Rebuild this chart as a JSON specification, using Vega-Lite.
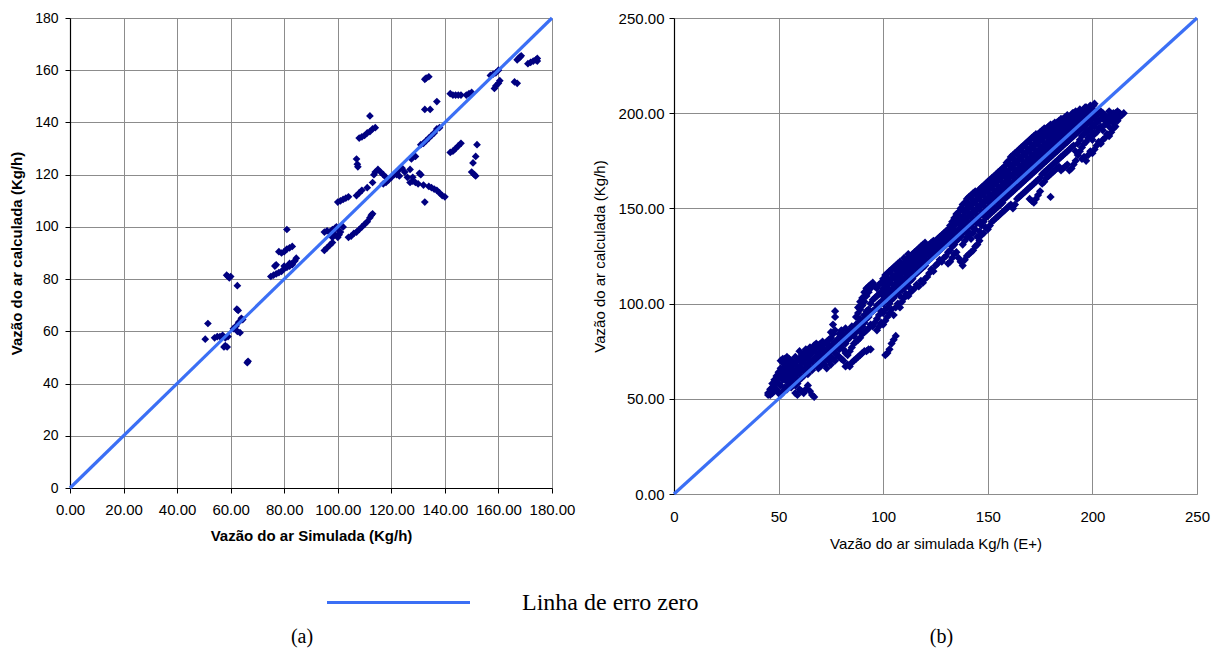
{
"$schema":"https://vega.github.io/schema/vega-lite/v6.json",
"background":"white",
"padding":{"left":9,"top":11,"right":5,"bottom":5},
"bounds":"flush",
"spacing":122,
"config":{"view":{"stroke":null},
"axis":{"grid":true,"gridColor":"#8c8c8c","gridWidth":1,"gridOpacity":1,"domainColor":"#000000","domainWidth":1.2,"tickColor":"#000000","labelColor":"#000000","titleColor":"#000000","labelFont":"Liberation Sans","titleFont":"Liberation Sans","labelFlush":false,"labelOverlap":false,"labelBound":false}},
"datasets":{
"la":[{"x":0,"y":0,"lab":"Linha de erro zero"},{"x":180,"y":180,"lab":"Linha de erro zero"}],
"lb":[{"x":0,"y":0},{"x":250,"y":250}],
"a":[{"x":50.5,"y":57},{"x":51.5,"y":63},{"x":54,"y":57.5},{"x":55,"y":58},{"x":56,"y":58},{"x":57,"y":58.5},{"x":58,"y":57.5},{"x":59,"y":58},{"x":57.5,"y":54},{"x":58,"y":54.5},{"x":58.7,"y":54},{"x":58.5,"y":81.5},{"x":59,"y":81},{"x":59.5,"y":80.5},{"x":60,"y":81},{"x":62.5,"y":77.5},{"x":62.3,"y":68.5},{"x":62.8,"y":68},{"x":61,"y":61},{"x":62,"y":62},{"x":63,"y":63.5},{"x":64,"y":65},{"x":64.5,"y":64.5},{"x":63.5,"y":59.5},{"x":62.5,"y":60},{"x":66.5,"y":48.5},{"x":66.2,"y":48},
{"x":75,"y":81},{"x":76,"y":81.5},{"x":77,"y":82},{"x":78,"y":82.5},{"x":79,"y":83},{"x":80,"y":84},{"x":81,"y":84.5},{"x":82,"y":85},{"x":83,"y":86},{"x":84,"y":87},{"x":84.5,"y":88},{"x":77,"y":85.5},{"x":76.5,"y":85},{"x":78,"y":90.5},{"x":79,"y":90},{"x":80,"y":90.5},{"x":81,"y":91.5},{"x":82,"y":92},{"x":83,"y":92.5},{"x":81,"y":99},{"x":80,"y":85},{"x":82,"y":86},{"x":83,"y":85.5},
{"x":95,"y":91},{"x":96,"y":92},{"x":97,"y":93},{"x":98,"y":94},{"x":95,"y":98},{"x":96,"y":98.5},{"x":97,"y":98},{"x":98,"y":99},{"x":99,"y":99.5},{"x":100,"y":96},{"x":100.5,"y":97},{"x":101,"y":98},{"x":102,"y":100},{"x":99,"y":97},{"x":99.5,"y":100},{"x":100,"y":109.5},{"x":101,"y":110},{"x":102,"y":110.5},{"x":103,"y":111},{"x":104,"y":111.5},{"x":98,"y":96},{"x":100,"y":99},
{"x":104,"y":96},{"x":105,"y":96.5},{"x":106,"y":97.5},{"x":107,"y":98},{"x":108,"y":99},{"x":109,"y":100},{"x":110,"y":101},{"x":111,"y":102},{"x":112,"y":103.5},{"x":112.5,"y":104.5},{"x":113,"y":105},{"x":107,"y":112},{"x":108,"y":113},{"x":109,"y":114},{"x":111,"y":115},{"x":107,"y":126},{"x":107.3,"y":124},{"x":107.5,"y":123},{"x":108,"y":134},{"x":109,"y":134.5},{"x":110,"y":135},{"x":111,"y":136},{"x":112,"y":136.5},{"x":113,"y":137.5},{"x":114,"y":138},{"x":112,"y":142.5},
{"x":113,"y":117},{"x":113.5,"y":120},{"x":114,"y":121},{"x":115,"y":122},{"x":116,"y":121},{"x":117,"y":120},{"x":118,"y":119},{"x":117,"y":116.5},{"x":118,"y":117},{"x":119,"y":118},{"x":120,"y":119},{"x":121,"y":120},{"x":122,"y":121},{"x":123,"y":122},{"x":124,"y":122.5},{"x":125,"y":121},{"x":126,"y":119},{"x":127,"y":117},{"x":128,"y":117.5},{"x":129,"y":117},{"x":130,"y":116.5},{"x":130.5,"y":120.5},{"x":131,"y":120},{"x":128,"y":119},{"x":127,"y":122},{"x":127.5,"y":126},{"x":128,"y":127},{"x":129,"y":127},{"x":132,"y":116},{"x":134,"y":115.5},{"x":135,"y":115},{"x":136,"y":114.5},{"x":137,"y":114},{"x":138,"y":113},{"x":139,"y":112},{"x":140,"y":111.5},{"x":132.5,"y":109.5},{"x":122,"y":120},{"x":123,"y":119.5},
{"x":131,"y":131.5},{"x":132,"y":132},{"x":133,"y":133},{"x":134,"y":134},{"x":135,"y":135},{"x":136,"y":136},{"x":137,"y":137.5},{"x":138,"y":138},{"x":132.5,"y":156.5},{"x":133,"y":157},{"x":134,"y":157.5},{"x":132.5,"y":145},{"x":134.5,"y":145},{"x":137,"y":148},{"x":142,"y":151},{"x":143,"y":150.5},{"x":144,"y":150.5},{"x":145,"y":150.5},{"x":146,"y":150.5},{"x":148,"y":150.5},{"x":149,"y":151},{"x":150,"y":151.5},{"x":142,"y":128.5},{"x":143,"y":129},{"x":144,"y":130},{"x":145,"y":131},{"x":146,"y":132},{"x":150,"y":121},{"x":151,"y":120},{"x":151.5,"y":119.5},{"x":150.5,"y":124.5},{"x":151.5,"y":127},{"x":152,"y":131.5},
{"x":157,"y":158},{"x":158,"y":158.5},{"x":159,"y":159},{"x":160,"y":160},{"x":158.5,"y":153},{"x":159,"y":154},{"x":160,"y":155},{"x":160.5,"y":156},{"x":166,"y":155.5},{"x":167,"y":155},{"x":167,"y":164},{"x":168,"y":165},{"x":168.5,"y":165.5},{"x":167.5,"y":164.5},{"x":171,"y":162.5},{"x":172,"y":163},{"x":173,"y":163.5},{"x":174,"y":164},{"x":174.5,"y":164.5},{"x":174.5,"y":163.5}],
"b":[{"x":45,"y":52},{"x":45,"y":53},{"x":46,"y":52},{"x":46,"y":55},{"x":47,"y":53},{"x":47,"y":56},{"x":47,"y":58},{"x":48,"y":54},{"x":48,"y":57},{"x":48,"y":60},{"x":49,"y":55},{"x":49,"y":59},{"x":49,"y":62},
{"x":50,"y":53},{"x":50,"y":58},{"x":50,"y":61},{"x":50,"y":64},{"x":51,"y":52},{"x":51,"y":57},{"x":51,"y":63},{"x":51,"y":66},{"x":51,"y":70},{"x":52,"y":54},{"x":52,"y":60},{"x":52,"y":65},{"x":52,"y":69},{"x":52,"y":71},{"x":53,"y":56},{"x":53,"y":62},{"x":53,"y":67},{"x":53,"y":71},{"x":54,"y":55},{"x":54,"y":59},{"x":54,"y":64},{"x":54,"y":70},{"x":54,"y":72},
{"x":55,"y":57},{"x":55,"y":61},{"x":55,"y":66},{"x":55,"y":68},{"x":55,"y":71},{"x":56,"y":56},{"x":56,"y":60},{"x":56,"y":63},{"x":56,"y":67},{"x":56,"y":70},{"x":57,"y":58},{"x":57,"y":62},{"x":57,"y":65},{"x":57,"y":69},{"x":58,"y":53},{"x":58,"y":57},{"x":58,"y":61},{"x":58,"y":64},{"x":58,"y":68},{"x":58,"y":72},{"x":59,"y":52},{"x":59,"y":58},{"x":59,"y":63},{"x":59,"y":66},{"x":59,"y":70},
{"x":60,"y":55},{"x":60,"y":60},{"x":60,"y":64},{"x":60,"y":67},{"x":60,"y":71},{"x":60,"y":75},{"x":61,"y":54},{"x":61,"y":61},{"x":61,"y":66},{"x":61,"y":69},{"x":61,"y":73},{"x":62,"y":53},{"x":62,"y":62},{"x":62,"y":65},{"x":62,"y":70},{"x":62,"y":74},{"x":63,"y":55},{"x":63,"y":64},{"x":63,"y":68},{"x":63,"y":72},{"x":63,"y":76},{"x":64,"y":57},{"x":64,"y":63},{"x":64,"y":67},{"x":64,"y":71},{"x":64,"y":75},
{"x":65,"y":54},{"x":65,"y":66},{"x":65,"y":69},{"x":65,"y":73},{"x":65,"y":77},{"x":66,"y":52},{"x":66,"y":65},{"x":66,"y":70},{"x":66,"y":74},{"x":66,"y":76},{"x":67,"y":51},{"x":67,"y":67},{"x":67,"y":71},{"x":67,"y":75},{"x":67,"y":78},{"x":68,"y":68},{"x":68,"y":72},{"x":68,"y":77},{"x":68,"y":79},{"x":69,"y":66},{"x":69,"y":70},{"x":69,"y":74},{"x":69,"y":78},
{"x":70,"y":67},{"x":70,"y":71},{"x":70,"y":76},{"x":70,"y":79},{"x":71,"y":69},{"x":71,"y":73},{"x":71,"y":77},{"x":71,"y":80},{"x":72,"y":68},{"x":72,"y":72},{"x":72,"y":75},{"x":72,"y":79},{"x":73,"y":66},{"x":73,"y":71},{"x":73,"y":76},{"x":73,"y":80},{"x":74,"y":70},{"x":74,"y":74},{"x":74,"y":78},{"x":74,"y":81},
{"x":75,"y":68},{"x":75,"y":72},{"x":75,"y":77},{"x":75,"y":82},{"x":75,"y":85},{"x":76,"y":71},{"x":76,"y":75},{"x":76,"y":79},{"x":76,"y":84},{"x":76,"y":89},{"x":77,"y":70},{"x":77,"y":74},{"x":77,"y":80},{"x":77,"y":86},{"x":77,"y":93},{"x":77,"y":96},{"x":78,"y":73},{"x":78,"y":77},{"x":78,"y":81},{"x":79,"y":72},{"x":79,"y":76},{"x":79,"y":82},{"x":79,"y":84},
{"x":80,"y":71},{"x":80,"y":78},{"x":80,"y":83},{"x":80,"y":86},{"x":81,"y":70},{"x":81,"y":76},{"x":81,"y":80},{"x":81,"y":84},{"x":82,"y":67},{"x":82,"y":74},{"x":82,"y":79},{"x":82,"y":83},{"x":82,"y":87},{"x":83,"y":68},{"x":83,"y":73},{"x":83,"y":81},{"x":83,"y":85},{"x":84,"y":67},{"x":84,"y":75},{"x":84,"y":82},{"x":84,"y":86},
{"x":85,"y":69},{"x":85,"y":77},{"x":85,"y":84},{"x":85,"y":88},{"x":86,"y":70},{"x":86,"y":79},{"x":86,"y":83},{"x":86,"y":87},{"x":87,"y":71},{"x":87,"y":80},{"x":87,"y":85},{"x":87,"y":89},{"x":87,"y":93},{"x":88,"y":72},{"x":88,"y":81},{"x":88,"y":86},{"x":88,"y":90},{"x":88,"y":95},{"x":88,"y":98},{"x":89,"y":73},{"x":89,"y":82},{"x":89,"y":87},{"x":89,"y":92},{"x":89,"y":97},{"x":89,"y":101},
{"x":90,"y":74},{"x":90,"y":84},{"x":90,"y":88},{"x":90,"y":91},{"x":90,"y":99},{"x":90,"y":103},{"x":91,"y":75},{"x":91,"y":85},{"x":91,"y":90},{"x":91,"y":94},{"x":91,"y":101},{"x":91,"y":106},{"x":92,"y":75},{"x":92,"y":86},{"x":92,"y":92},{"x":92,"y":96},{"x":92,"y":104},{"x":92,"y":108},{"x":93,"y":76},{"x":93,"y":87},{"x":93,"y":93},{"x":93,"y":97},{"x":93,"y":106},{"x":93,"y":109},{"x":94,"y":76},{"x":94,"y":89},{"x":94,"y":95},{"x":94,"y":100},{"x":94,"y":108},{"x":94,"y":110},
{"x":95,"y":88},{"x":95,"y":96},{"x":95,"y":102},{"x":95,"y":110},{"x":95,"y":111},{"x":96,"y":90},{"x":96,"y":97},{"x":96,"y":103},{"x":96,"y":109},{"x":97,"y":86},{"x":97,"y":92},{"x":97,"y":99},{"x":97,"y":104},{"x":97,"y":108},{"x":98,"y":88},{"x":98,"y":94},{"x":98,"y":100},{"x":98,"y":105},{"x":98,"y":110},{"x":99,"y":90},{"x":99,"y":96},{"x":99,"y":101},{"x":99,"y":106},{"x":99,"y":111},
{"x":100,"y":89},{"x":100,"y":95},{"x":100,"y":100},{"x":100,"y":104},{"x":100,"y":108},{"x":100,"y":113},{"x":101,"y":73},{"x":101,"y":91},{"x":101,"y":97},{"x":101,"y":103},{"x":101,"y":107},{"x":101,"y":112},{"x":101,"y":115},{"x":102,"y":74},{"x":102,"y":93},{"x":102,"y":98},{"x":102,"y":105},{"x":102,"y":110},{"x":102,"y":116},{"x":103,"y":76},{"x":103,"y":95},{"x":103,"y":100},{"x":103,"y":106},{"x":103,"y":111},{"x":103,"y":117},{"x":104,"y":79},{"x":104,"y":97},{"x":104,"y":102},{"x":104,"y":107},{"x":104,"y":113},{"x":104,"y":118},
{"x":105,"y":81},{"x":105,"y":94},{"x":105,"y":103},{"x":105,"y":108},{"x":105,"y":114},{"x":105,"y":119},{"x":106,"y":83},{"x":106,"y":98},{"x":106,"y":105},{"x":106,"y":110},{"x":106,"y":115},{"x":106,"y":120},{"x":107,"y":100},{"x":107,"y":106},{"x":107,"y":112},{"x":107,"y":117},{"x":107,"y":121},{"x":108,"y":98},{"x":108,"y":104},{"x":108,"y":109},{"x":108,"y":114},{"x":108,"y":118},{"x":108,"y":122},{"x":109,"y":101},{"x":109,"y":107},{"x":109,"y":111},{"x":109,"y":116},{"x":109,"y":120},
{"x":110,"y":103},{"x":110,"y":108},{"x":110,"y":113},{"x":110,"y":118},{"x":110,"y":121},{"x":110,"y":124},{"x":111,"y":105},{"x":111,"y":110},{"x":111,"y":114},{"x":111,"y":119},{"x":111,"y":123},{"x":112,"y":104},{"x":112,"y":109},{"x":112,"y":115},{"x":112,"y":120},{"x":112,"y":124},{"x":112,"y":126},{"x":113,"y":106},{"x":113,"y":112},{"x":113,"y":117},{"x":113,"y":121},{"x":113,"y":125},{"x":114,"y":107},{"x":114,"y":113},{"x":114,"y":118},{"x":114,"y":122},{"x":114,"y":126},
{"x":115,"y":108},{"x":115,"y":115},{"x":115,"y":119},{"x":115,"y":123},{"x":115,"y":127},{"x":116,"y":110},{"x":116,"y":116},{"x":116,"y":120},{"x":116,"y":124},{"x":116,"y":128},{"x":117,"y":109},{"x":117,"y":117},{"x":117,"y":121},{"x":117,"y":125},{"x":117,"y":129},{"x":118,"y":112},{"x":118,"y":118},{"x":118,"y":122},{"x":118,"y":126},{"x":118,"y":130},{"x":119,"y":111},{"x":119,"y":119},{"x":119,"y":124},{"x":119,"y":127},{"x":119,"y":131},
{"x":120,"y":113},{"x":120,"y":120},{"x":120,"y":125},{"x":120,"y":128},{"x":120,"y":132},{"x":121,"y":114},{"x":121,"y":122},{"x":121,"y":126},{"x":121,"y":129},{"x":122,"y":116},{"x":122,"y":123},{"x":122,"y":127},{"x":122,"y":131},{"x":123,"y":118},{"x":123,"y":124},{"x":123,"y":128},{"x":123,"y":132},{"x":124,"y":117},{"x":124,"y":125},{"x":124,"y":129},{"x":124,"y":133},
{"x":125,"y":120},{"x":125,"y":126},{"x":125,"y":130},{"x":125,"y":133},{"x":126,"y":121},{"x":126,"y":127},{"x":126,"y":131},{"x":126,"y":134},{"x":127,"y":123},{"x":127,"y":128},{"x":127,"y":132},{"x":127,"y":135},{"x":128,"y":122},{"x":128,"y":129},{"x":128,"y":133},{"x":128,"y":136},{"x":129,"y":124},{"x":129,"y":130},{"x":129,"y":134},{"x":129,"y":137},
{"x":130,"y":125},{"x":130,"y":131},{"x":130,"y":135},{"x":130,"y":138},{"x":131,"y":121},{"x":131,"y":127},{"x":131,"y":132},{"x":131,"y":136},{"x":131,"y":139},{"x":132,"y":122},{"x":132,"y":128},{"x":132,"y":133},{"x":132,"y":137},{"x":132,"y":141},{"x":133,"y":124},{"x":133,"y":130},{"x":133,"y":134},{"x":133,"y":139},{"x":133,"y":143},{"x":134,"y":126},{"x":134,"y":131},{"x":134,"y":136},{"x":134,"y":141},{"x":134,"y":145},
{"x":135,"y":127},{"x":135,"y":133},{"x":135,"y":138},{"x":135,"y":143},{"x":135,"y":147},{"x":136,"y":124},{"x":136,"y":134},{"x":136,"y":139},{"x":136,"y":144},{"x":136,"y":148},{"x":137,"y":122},{"x":137,"y":135},{"x":137,"y":140},{"x":137,"y":145},{"x":137,"y":150},{"x":138,"y":120},{"x":138,"y":131},{"x":138,"y":137},{"x":138,"y":142},{"x":138,"y":146},{"x":138,"y":152},{"x":139,"y":123},{"x":139,"y":133},{"x":139,"y":138},{"x":139,"y":143},{"x":139,"y":148},{"x":139,"y":153},
{"x":140,"y":125},{"x":140,"y":135},{"x":140,"y":140},{"x":140,"y":145},{"x":140,"y":150},{"x":140,"y":155},{"x":141,"y":126},{"x":141,"y":136},{"x":141,"y":141},{"x":141,"y":146},{"x":141,"y":151},{"x":141,"y":156},{"x":142,"y":127},{"x":142,"y":134},{"x":142,"y":142},{"x":142,"y":147},{"x":142,"y":152},{"x":142,"y":157},{"x":143,"y":128},{"x":143,"y":137},{"x":143,"y":143},{"x":143,"y":148},{"x":143,"y":153},{"x":143,"y":158},{"x":144,"y":130},{"x":144,"y":139},{"x":144,"y":144},{"x":144,"y":149},{"x":144,"y":154},{"x":144,"y":159},
{"x":145,"y":131},{"x":145,"y":135},{"x":145,"y":145},{"x":145,"y":150},{"x":145,"y":155},{"x":145,"y":158},{"x":146,"y":133},{"x":146,"y":138},{"x":146,"y":146},{"x":146,"y":151},{"x":146,"y":156},{"x":146,"y":160},{"x":147,"y":136},{"x":147,"y":141},{"x":147,"y":147},{"x":147,"y":152},{"x":147,"y":157},{"x":147,"y":161},{"x":148,"y":137},{"x":148,"y":143},{"x":148,"y":148},{"x":148,"y":153},{"x":148,"y":158},{"x":148,"y":162},{"x":149,"y":140},{"x":149,"y":145},{"x":149,"y":149},{"x":149,"y":154},{"x":149,"y":159},{"x":149,"y":163},
{"x":150,"y":139},{"x":150,"y":146},{"x":150,"y":150},{"x":150,"y":155},{"x":150,"y":160},{"x":150,"y":164},{"x":151,"y":141},{"x":151,"y":147},{"x":151,"y":151},{"x":151,"y":156},{"x":151,"y":161},{"x":151,"y":165},{"x":152,"y":143},{"x":152,"y":148},{"x":152,"y":153},{"x":152,"y":157},{"x":152,"y":162},{"x":152,"y":166},{"x":153,"y":144},{"x":153,"y":149},{"x":153,"y":154},{"x":153,"y":158},{"x":153,"y":163},{"x":153,"y":167},{"x":154,"y":145},{"x":154,"y":150},{"x":154,"y":155},{"x":154,"y":159},{"x":154,"y":164},{"x":154,"y":168},
{"x":155,"y":146},{"x":155,"y":151},{"x":155,"y":156},{"x":155,"y":160},{"x":155,"y":165},{"x":155,"y":169},{"x":156,"y":147},{"x":156,"y":152},{"x":156,"y":157},{"x":156,"y":161},{"x":156,"y":166},{"x":156,"y":170},{"x":157,"y":148},{"x":157,"y":153},{"x":157,"y":158},{"x":157,"y":162},{"x":157,"y":167},{"x":157,"y":171},{"x":158,"y":149},{"x":158,"y":155},{"x":158,"y":159},{"x":158,"y":163},{"x":158,"y":168},{"x":158,"y":172},{"x":159,"y":150},{"x":159,"y":156},{"x":159,"y":160},{"x":159,"y":164},{"x":159,"y":169},{"x":159,"y":174},
{"x":160,"y":151},{"x":160,"y":157},{"x":160,"y":161},{"x":160,"y":166},{"x":160,"y":170},{"x":160,"y":175},{"x":161,"y":152},{"x":161,"y":158},{"x":161,"y":162},{"x":161,"y":167},{"x":161,"y":172},{"x":161,"y":177},{"x":162,"y":150},{"x":162,"y":159},{"x":162,"y":163},{"x":162,"y":168},{"x":162,"y":173},{"x":162,"y":178},{"x":163,"y":152},{"x":163,"y":160},{"x":163,"y":164},{"x":163,"y":169},{"x":163,"y":174},{"x":163,"y":179},{"x":164,"y":155},{"x":164,"y":161},{"x":164,"y":165},{"x":164,"y":170},{"x":164,"y":175},{"x":164,"y":180},
{"x":165,"y":156},{"x":165,"y":162},{"x":165,"y":166},{"x":165,"y":171},{"x":165,"y":176},{"x":165,"y":181},{"x":166,"y":157},{"x":166,"y":163},{"x":166,"y":168},{"x":166,"y":172},{"x":166,"y":177},{"x":166,"y":182},{"x":167,"y":158},{"x":167,"y":164},{"x":167,"y":169},{"x":167,"y":173},{"x":167,"y":178},{"x":167,"y":183},{"x":168,"y":159},{"x":168,"y":165},{"x":168,"y":170},{"x":168,"y":174},{"x":168,"y":179},{"x":168,"y":184},{"x":169,"y":160},{"x":169,"y":166},{"x":169,"y":171},{"x":169,"y":175},{"x":169,"y":180},{"x":169,"y":185},
{"x":170,"y":155},{"x":170,"y":161},{"x":170,"y":167},{"x":170,"y":172},{"x":170,"y":176},{"x":170,"y":181},{"x":170,"y":186},{"x":171,"y":154},{"x":171,"y":162},{"x":171,"y":168},{"x":171,"y":173},{"x":171,"y":177},{"x":171,"y":182},{"x":171,"y":187},{"x":172,"y":153},{"x":172,"y":163},{"x":172,"y":169},{"x":172,"y":174},{"x":172,"y":178},{"x":172,"y":183},{"x":172,"y":188},{"x":173,"y":155},{"x":173,"y":164},{"x":173,"y":170},{"x":173,"y":175},{"x":173,"y":179},{"x":173,"y":184},{"x":173,"y":189},{"x":174,"y":157},{"x":174,"y":165},{"x":174,"y":171},{"x":174,"y":176},{"x":174,"y":180},{"x":174,"y":185},{"x":174,"y":189},
{"x":175,"y":159},{"x":175,"y":166},{"x":175,"y":172},{"x":175,"y":177},{"x":175,"y":181},{"x":175,"y":186},{"x":175,"y":190},{"x":176,"y":163},{"x":176,"y":168},{"x":176,"y":173},{"x":176,"y":178},{"x":176,"y":182},{"x":176,"y":187},{"x":176,"y":191},{"x":177,"y":164},{"x":177,"y":169},{"x":177,"y":174},{"x":177,"y":179},{"x":177,"y":183},{"x":177,"y":188},{"x":177,"y":192},{"x":178,"y":166},{"x":178,"y":170},{"x":178,"y":175},{"x":178,"y":180},{"x":178,"y":184},{"x":178,"y":189},{"x":178,"y":192},{"x":179,"y":167},{"x":179,"y":171},{"x":179,"y":176},{"x":179,"y":181},{"x":179,"y":185},{"x":179,"y":190},{"x":179,"y":193},
{"x":180,"y":156},{"x":180,"y":168},{"x":180,"y":172},{"x":180,"y":177},{"x":180,"y":182},{"x":180,"y":186},{"x":180,"y":190},{"x":180,"y":194},{"x":181,"y":169},{"x":181,"y":173},{"x":181,"y":178},{"x":181,"y":183},{"x":181,"y":187},{"x":181,"y":191},{"x":181,"y":194},{"x":182,"y":170},{"x":182,"y":174},{"x":182,"y":179},{"x":182,"y":184},{"x":182,"y":188},{"x":182,"y":192},{"x":182,"y":195},{"x":183,"y":171},{"x":183,"y":175},{"x":183,"y":180},{"x":183,"y":185},{"x":183,"y":189},{"x":183,"y":193},{"x":183,"y":195},{"x":184,"y":172},{"x":184,"y":176},{"x":184,"y":181},{"x":184,"y":186},{"x":184,"y":190},{"x":184,"y":193},{"x":184,"y":196},
{"x":185,"y":170},{"x":185,"y":177},{"x":185,"y":182},{"x":185,"y":187},{"x":185,"y":191},{"x":185,"y":194},{"x":185,"y":197},{"x":186,"y":171},{"x":186,"y":178},{"x":186,"y":183},{"x":186,"y":188},{"x":186,"y":192},{"x":186,"y":195},{"x":186,"y":197},{"x":187,"y":172},{"x":187,"y":179},{"x":187,"y":184},{"x":187,"y":189},{"x":187,"y":193},{"x":187,"y":196},{"x":187,"y":198},{"x":188,"y":173},{"x":188,"y":180},{"x":188,"y":185},{"x":188,"y":190},{"x":188,"y":194},{"x":188,"y":197},{"x":188,"y":199},{"x":189,"y":170},{"x":189,"y":181},{"x":189,"y":186},{"x":189,"y":191},{"x":189,"y":195},{"x":189,"y":198},
{"x":190,"y":171},{"x":190,"y":182},{"x":190,"y":187},{"x":190,"y":192},{"x":190,"y":196},{"x":190,"y":199},{"x":191,"y":173},{"x":191,"y":183},{"x":191,"y":188},{"x":191,"y":193},{"x":191,"y":197},{"x":191,"y":200},{"x":192,"y":175},{"x":192,"y":180},{"x":192,"y":189},{"x":192,"y":194},{"x":192,"y":198},{"x":192,"y":201},{"x":193,"y":178},{"x":193,"y":184},{"x":193,"y":190},{"x":193,"y":195},{"x":193,"y":199},{"x":194,"y":180},{"x":194,"y":186},{"x":194,"y":191},{"x":194,"y":196},{"x":194,"y":200},{"x":194,"y":202},
{"x":195,"y":176},{"x":195,"y":182},{"x":195,"y":188},{"x":195,"y":192},{"x":195,"y":197},{"x":195,"y":201},{"x":196,"y":177},{"x":196,"y":184},{"x":196,"y":189},{"x":196,"y":193},{"x":196,"y":198},{"x":196,"y":202},{"x":197,"y":175},{"x":197,"y":185},{"x":197,"y":190},{"x":197,"y":194},{"x":197,"y":199},{"x":197,"y":203},{"x":198,"y":178},{"x":198,"y":187},{"x":198,"y":191},{"x":198,"y":195},{"x":198,"y":200},{"x":199,"y":180},{"x":199,"y":188},{"x":199,"y":192},{"x":199,"y":196},{"x":199,"y":201},{"x":199,"y":204},
{"x":200,"y":179},{"x":200,"y":186},{"x":200,"y":190},{"x":200,"y":194},{"x":200,"y":198},{"x":200,"y":202},{"x":201,"y":181},{"x":201,"y":189},{"x":201,"y":193},{"x":201,"y":197},{"x":201,"y":201},{"x":201,"y":205},{"x":202,"y":183},{"x":202,"y":190},{"x":202,"y":195},{"x":202,"y":199},{"x":203,"y":185},{"x":203,"y":192},{"x":203,"y":196},{"x":203,"y":200},{"x":204,"y":184},{"x":204,"y":193},{"x":204,"y":197},{"x":204,"y":201},
{"x":205,"y":186},{"x":205,"y":191},{"x":205,"y":198},{"x":205,"y":200},{"x":206,"y":187},{"x":206,"y":194},{"x":206,"y":196},{"x":206,"y":199},{"x":207,"y":189},{"x":207,"y":195},{"x":207,"y":198},{"x":208,"y":188},{"x":208,"y":193},{"x":208,"y":197},{"x":208,"y":201},{"x":209,"y":190},{"x":209,"y":196},{"x":209,"y":199},{"x":210,"y":192},{"x":210,"y":195},{"x":210,"y":198},{"x":210,"y":200},{"x":211,"y":193},{"x":211,"y":197},{"x":211,"y":200},{"x":212,"y":196},{"x":212,"y":198},{"x":212,"y":201},{"x":213,"y":198},{"x":213,"y":200},{"x":214,"y":199},{"x":215,"y":200},
{"x":100.5,"y":102},{"x":100.5,"y":106},{"x":100.5,"y":110},{"x":102.5,"y":103},{"x":102.5,"y":108},{"x":102.5,"y":113},{"x":104.5,"y":105},{"x":104.5,"y":110},{"x":104.5,"y":115},{"x":106.5,"y":107},{"x":106.5,"y":112},{"x":106.5,"y":117},{"x":108.5,"y":111},{"x":108.5,"y":116},{"x":108.5,"y":120},{"x":110.5,"y":110},{"x":110.5,"y":116},{"x":110.5,"y":122},{"x":112.5,"y":112},{"x":112.5,"y":117},{"x":112.5,"y":122},{"x":114.5,"y":115},{"x":114.5,"y":120},{"x":114.5,"y":124},{"x":116.5,"y":118},{"x":116.5,"y":122},{"x":116.5,"y":126},{"x":118.5,"y":120},{"x":118.5,"y":124},{"x":118.5,"y":128},{"x":120.5,"y":122},{"x":120.5,"y":127},{"x":120.5,"y":130},{"x":122.5,"y":125},{"x":122.5,"y":129},{"x":124.5,"y":127},{"x":124.5,"y":131},{"x":126.5,"y":129},{"x":126.5,"y":132},{"x":128.5,"y":131},{"x":128.5,"y":134},{"x":130.5,"y":133},{"x":130.5,"y":136},{"x":132.5,"y":135},{"x":132.5,"y":139},{"x":134.5,"y":138},{"x":134.5,"y":143},
{"x":136.5,"y":137},{"x":136.5,"y":142},{"x":136.5,"y":146},{"x":138.5,"y":140},{"x":138.5,"y":144},{"x":138.5,"y":149},{"x":140.5,"y":138},{"x":140.5,"y":143},{"x":140.5,"y":148},{"x":140.5,"y":153},{"x":142.5,"y":140},{"x":142.5,"y":145},{"x":142.5,"y":150},{"x":142.5,"y":155},{"x":144.5,"y":142},{"x":144.5,"y":147},{"x":144.5,"y":152},{"x":144.5,"y":157},{"x":146.5,"y":143},{"x":146.5,"y":149},{"x":146.5,"y":154},{"x":146.5,"y":158},{"x":148.5,"y":146},{"x":148.5,"y":151},{"x":148.5,"y":156},{"x":148.5,"y":160},{"x":150.5,"y":148},{"x":150.5,"y":153},{"x":150.5,"y":158},{"x":150.5,"y":162},{"x":152.5,"y":151},{"x":152.5,"y":155},{"x":152.5,"y":160},{"x":152.5,"y":164},{"x":154.5,"y":153},{"x":154.5,"y":157},{"x":154.5,"y":162},{"x":154.5,"y":166},{"x":156.5,"y":155},{"x":156.5,"y":159},{"x":156.5,"y":164},{"x":156.5,"y":168},{"x":158.5,"y":157},{"x":158.5,"y":161},{"x":158.5,"y":166},{"x":158.5,"y":170},
{"x":160.5,"y":159},{"x":160.5,"y":164},{"x":160.5,"y":168},{"x":160.5,"y":173},{"x":162.5,"y":161},{"x":162.5,"y":166},{"x":162.5,"y":171},{"x":162.5,"y":176},{"x":164.5,"y":163},{"x":164.5,"y":168},{"x":164.5,"y":173},{"x":164.5,"y":178},{"x":166.5,"y":166},{"x":166.5,"y":170},{"x":166.5,"y":175},{"x":166.5,"y":180},{"x":168.5,"y":168},{"x":168.5,"y":172},{"x":168.5,"y":177},{"x":168.5,"y":182},{"x":170.5,"y":170},{"x":170.5,"y":174},{"x":170.5,"y":179},{"x":170.5,"y":184},{"x":172.5,"y":172},{"x":172.5,"y":176},{"x":172.5,"y":181},{"x":172.5,"y":186},{"x":174.5,"y":174},{"x":174.5,"y":178},{"x":174.5,"y":183},{"x":174.5,"y":187},{"x":176.5,"y":176},{"x":176.5,"y":180},{"x":176.5,"y":185},{"x":176.5,"y":189},{"x":178.5,"y":178},{"x":178.5,"y":182},{"x":178.5,"y":187},{"x":178.5,"y":191},
{"x":180.5,"y":180},{"x":180.5,"y":184},{"x":180.5,"y":188},{"x":180.5,"y":192},{"x":182.5,"y":182},{"x":182.5,"y":186},{"x":182.5,"y":190},{"x":182.5,"y":194},{"x":184.5,"y":184},{"x":184.5,"y":188},{"x":184.5,"y":192},{"x":184.5,"y":195},{"x":186.5,"y":186},{"x":186.5,"y":190},{"x":186.5,"y":194},{"x":186.5,"y":196},{"x":188.5,"y":188},{"x":188.5,"y":192},{"x":188.5,"y":196},{"x":188.5,"y":198},{"x":190.5,"y":190},{"x":190.5,"y":194},{"x":190.5,"y":198},{"x":190.5,"y":200},{"x":192.5,"y":192},{"x":192.5,"y":196},{"x":192.5,"y":200},{"x":194.5,"y":194},{"x":194.5,"y":198},{"x":194.5,"y":201},{"x":196.5,"y":196},{"x":196.5,"y":200},{"x":196.5,"y":203},{"x":198.5,"y":198},{"x":198.5,"y":202},{"x":200.5,"y":200},{"x":200.5,"y":204}]
},
"hconcat":[
{"width":482,"height":470,
"title":{"text":"(a)","orient":"bottom","offset":84,"dx":-9,"font":"Liberation Serif","fontSize":20,"fontWeight":"normal","color":"#000000"},
"layer":[
{"data":{"name":"a"},"mark":{"type":"point","shape":"diamond","filled":true,"size":60,"color":"#000080","opacity":1},
"encoding":{
"x":{"field":"x","type":"quantitative","scale":{"domain":[0,180],"nice":false},"axis":{"title":"Vazão do ar Simulada (Kg/h)","titleFontWeight":"bold","titleFontSize":15,"values":[0,20,40,60,80,100,120,140,160,180],"format":".2f","labelFontSize":15,"tickSize":5,"labelPadding":9,"titlePadding":11}},
"y":{"field":"y","type":"quantitative","scale":{"domain":[0,180],"nice":false},"axis":{"title":"Vazão do ar calculada (Kg/h)","titleFontWeight":"bold","titleFontSize":15,"values":[0,20,40,60,80,100,120,140,160,180],"format":"d","labelFontSize":14,"tickSize":5,"labelPadding":7,"titlePadding":10}}}},
{"data":{"name":"la"},"mark":{"type":"line","strokeWidth":3.2},
"encoding":{"x":{"field":"x","type":"quantitative"},"y":{"field":"y","type":"quantitative"},
"color":{"field":"lab","type":"nominal","scale":{"range":["#3b6ff5"]},"legend":{"orient":"none","legendX":255,"legendY":511,"title":null,"symbolType":"stroke","symbolSize":20449,"symbolStrokeWidth":3.2,"labelFont":"Liberation Serif","labelFontSize":24,"labelColor":"#000000","labelOffset":50,"padding":0,"labelLimit":400}}}}
]},
{"width":523,"height":476,
"title":{"text":"(b)","orient":"bottom","offset":76,"dx":6,"font":"Liberation Serif","fontSize":20,"fontWeight":"normal","color":"#000000"},
"layer":[
{"data":{"name":"b"},"mark":{"type":"point","shape":"diamond","filled":true,"size":68,"color":"#000080","opacity":1},
"encoding":{
"x":{"field":"x","type":"quantitative","scale":{"domain":[0,250],"nice":false},"axis":{"title":"Vazão do ar simulada Kg/h (E+)","titleFontWeight":"normal","titleFontSize":15,"values":[0,50,100,150,200,250],"format":"d","labelFontSize":15,"ticks":false,"labelPadding":15,"titlePadding":12,"domainColor":"#8c8c8c"}},
"y":{"field":"y","type":"quantitative","scale":{"domain":[0,250],"nice":false},"axis":{"title":"Vazão do ar calculada (Kg/h)","titleFontWeight":"normal","titleFontSize":15,"values":[0,50,100,150,200,250],"format":".2f","labelFontSize":15,"tickSize":5,"labelPadding":5,"titlePadding":11}}}},
{"data":{"name":"lb"},"mark":{"type":"line","strokeWidth":3.2,"color":"#3b6ff5"},
"encoding":{"x":{"field":"x","type":"quantitative"},"y":{"field":"y","type":"quantitative"}}}
]}
]
}
